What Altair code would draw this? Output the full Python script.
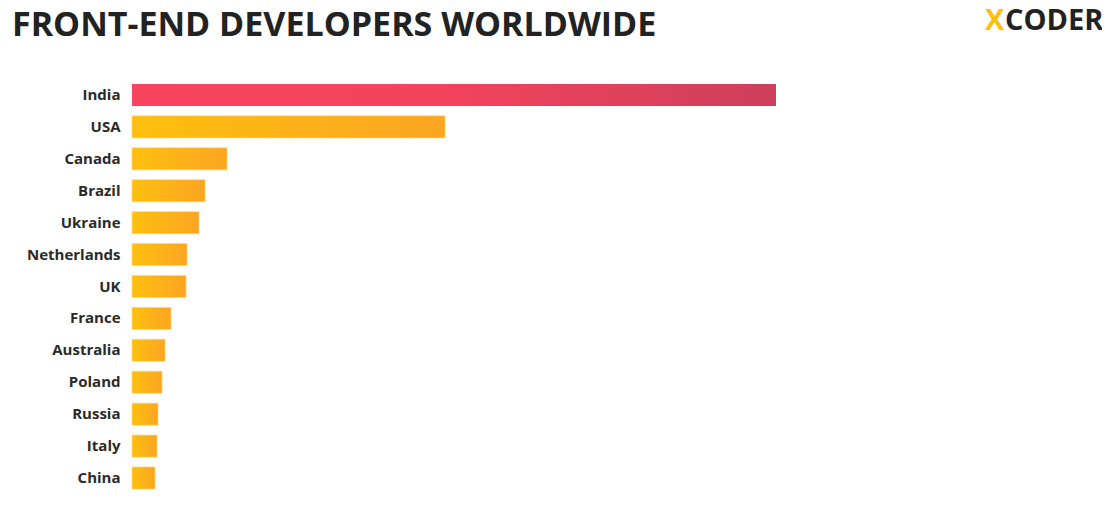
import altair as alt
import pandas as pd

countries = ["India", "USA", "Canada", "Brazil", "Ukraine", "Netherlands", "UK",
             "France", "Australia", "Poland", "Russia", "Italy", "China"]
developers = [64.4, 31.3, 9.5, 7.3, 6.7, 5.5, 5.4, 3.9, 3.3, 3.0, 2.6, 2.5, 2.3]
highlight = ["India"]
title_text = ["FRONT-END DEVELOPERS WORLDWIDE"]
logo_mark = ["X"]
logo_word = ["CODER"]

df = pd.DataFrame({"country": countries, "developers": developers})
df["group"] = ["top" if c in highlight else "rest" for c in countries]

red_grad = alt.Gradient(
    gradient="linear",
    stops=[alt.GradientStop(color="#F8445E", offset=0),
           alt.GradientStop(color="#F2435D", offset=0.5),
           alt.GradientStop(color="#CD3F5B", offset=1)],
    x1=0, x2=1, y1=0, y2=0)
orange_grad = alt.Gradient(
    gradient="linear",
    stops=[alt.GradientStop(color="#FEC00E", offset=0),
           alt.GradientStop(color="#FBA522", offset=1)],
    x1=0, x2=1, y1=0, y2=0)

y = alt.Y("country:N", sort=countries, title=None,
          scale=alt.Scale(paddingInner=0.31, paddingOuter=0.155),
          axis=alt.Axis(domain=False, ticks=False, labelPadding=12,
                        labelFont="Open Sans", labelFontWeight="bold",
                        labelFontSize=15, labelColor="#2A2A2A"))
x = alt.X("developers:Q", scale=alt.Scale(domain=[0, 88]), axis=None)

base = alt.Chart(df).encode(y=y, x=x)
red = base.transform_filter(alt.datum.group == "top").mark_bar(color=red_grad)
orange = base.transform_filter(alt.datum.group == "rest").mark_bar(
    color=orange_grad, stroke="#FFD66E", strokeWidth=1, strokeOpacity=0.7)

title = alt.Chart(pd.DataFrame({"t": title_text})).mark_text(
    align="left", baseline="alphabetic", font="Open Sans", fontWeight="bold",
    fontSize=34, color="#222222"
).encode(text="t:N", x=alt.value(-120), y=alt.value(-43))

logo_x = alt.Chart(pd.DataFrame({"t": logo_mark})).mark_text(
    align="left", baseline="alphabetic", font="Open Sans", fontWeight="bold",
    fontSize=29, color="#FEC00E"
).encode(text="t:N", x=alt.value(853), y=alt.value(-49))

logo_c = alt.Chart(pd.DataFrame({"t": logo_word})).mark_text(
    align="left", baseline="alphabetic", font="Open Sans", fontWeight="bold",
    fontSize=29, color="#222222"
).encode(text="t:N", x=alt.value(873), y=alt.value(-49))

chart = alt.layer(red, orange, title, logo_x, logo_c).properties(
    width=880, height=415,
    padding={"left": 124, "top": 71, "right": 90, "bottom": 10},
    autosize="none",
    background="white",
).configure_view(stroke=None)

chart.save("out.html", embed_options={"renderer": "svg", "actions": False})
